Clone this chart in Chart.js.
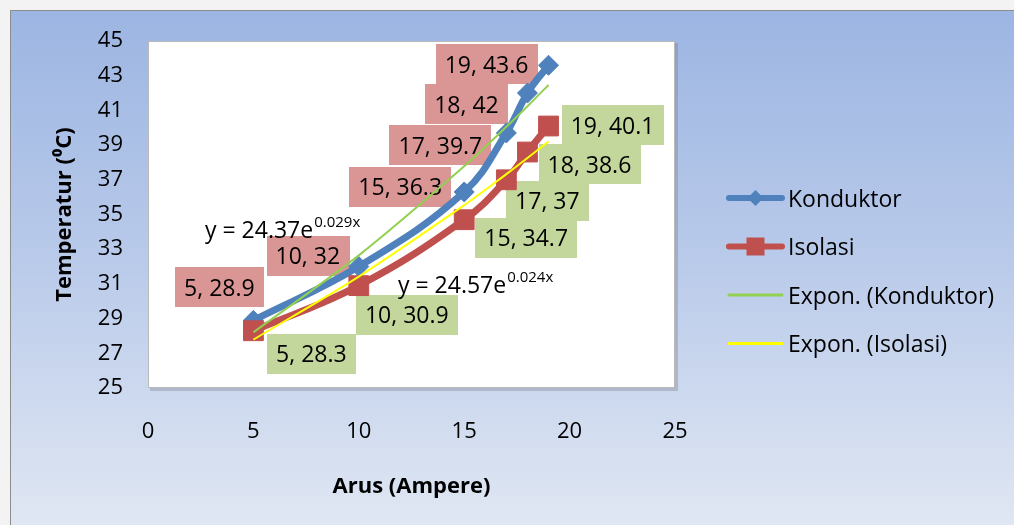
<!DOCTYPE html>
<html>
<head>
<meta charset="utf-8">
<script src="https://cdn.jsdelivr.net/npm/chart.js@4.4.1/dist/chart.umd.min.js"></script>
<style>
  html, body { margin: 0; padding: 0; background: #f3f3f3; overflow: hidden; }
  #wrap { width: 1014px; height: 525px; position: relative; }
  canvas { display: block; }
</style>
</head>
<body>
<div id="wrap"><canvas id="c" width="1014" height="525"></canvas></div>
<script>
// Measured current (A) and temperature (°C)
const arus = [5, 10, 15, 17, 18, 19];
const konduktor = [28.9, 32, 36.3, 39.7, 42, 43.6];
const isolasi = [28.3, 30.9, 34.7, 37, 38.6, 40.1];
const xTicks = [0, 5, 10, 15, 20, 25];
const yTicks = [25, 27, 29, 31, 33, 35, 37, 39, 41, 43, 45];
const seriesNames = ['Konduktor', 'Isolasi'];
const trendNames = ['Expon. (Konduktor)', 'Expon. (Isolasi)'];

const FONT = '"Open Sans", Lato, sans-serif';

// Least-squares exponential fit y = a * e^(b x) (regression on ln y)
function expFit(xs, ys) {
  const n = xs.length;
  const ly = ys.map(Math.log);
  const mx = xs.reduce((s, v) => s + v, 0) / n;
  const my = ly.reduce((s, v) => s + v, 0) / n;
  let sxy = 0, sxx = 0;
  for (let i = 0; i < n; i++) { sxy += (xs[i] - mx) * (ly[i] - my); sxx += (xs[i] - mx) ** 2; }
  const b = sxy / sxx;
  const a = Math.exp(my - b * mx);
  return { a, b };
}
const fitK = expFit(arus, konduktor);
const fitI = expFit(arus, isolasi);
const trendK = arus.map(x => fitK.a * Math.exp(fitK.b * x));
const trendI = arus.map(x => fitI.a * Math.exp(fitI.b * x));

const pts = (xs, ys) => xs.map((x, i) => ({ x, y: ys[i] }));

// Chart frame, gradient backdrop and plot-area panel
const backdrop = {
  id: 'backdrop',
  beforeDraw(chart) {
    const { ctx, chartArea: a } = chart;
    const W = chart.width, H = chart.height;
    ctx.save();
    ctx.fillStyle = '#f3f3f3';
    ctx.fillRect(0, 0, W, H);
    const g = ctx.createLinearGradient(0, 10, 0, H);
    g.addColorStop(0, '#9cb5e2');
    g.addColorStop(0.5, '#bacbea');
    g.addColorStop(1, '#e0e7f3');
    ctx.fillStyle = g;
    ctx.fillRect(10, 10, W - 10, H - 10);
    ctx.strokeStyle = '#8c8c8c';
    ctx.lineWidth = 1;
    ctx.beginPath();
    ctx.moveTo(10.5, H); ctx.lineTo(10.5, 10.5); ctx.lineTo(W, 10.5);
    ctx.stroke();
    // plot panel with soft shadow
    ctx.fillStyle = 'rgba(110,110,120,0.3)';
    ctx.fillRect(a.left + 2, a.top + 2, a.right - a.left + 1, a.bottom - a.top + 1);
    ctx.fillStyle = '#ffffff';
    ctx.fillRect(a.left, a.top, a.right - a.left, a.bottom - a.top);
    ctx.strokeStyle = '#b9b9b9';
    ctx.strokeRect(a.left + 0.5, a.top + 0.5, a.right - a.left - 1, a.bottom - a.top - 1);
    ctx.restore();
  }
};

// Point value labels and trendline equations
const valueLabels = {
  id: 'valueLabels',
  beforeDatasetsDraw(chart, args, opts) {
    const { ctx } = chart;
    const xs = chart.scales.x, ys = chart.scales.y;
    ctx.save();
    ctx.font = `23px ${FONT}`;
    ctx.textAlign = 'center';
    ctx.textBaseline = 'middle';
    opts.series.forEach(s => {
      const ds = chart.data.datasets[s.dataset];
      ds.data.forEach((p, i) => {
        const cx = xs.getPixelForValue(p.x) + s.offsets[i][0];
        const cy = ys.getPixelForValue(p.y) + s.offsets[i][1];
        const txt = `${p.x}, ${p.y}`;
        const w = ctx.measureText(txt).width + 2 * opts.padX;
        const h = opts.boxH;
        ctx.fillStyle = s.fill;
        ctx.fillRect(Math.round(cx - w / 2), Math.round(cy - h / 2), Math.round(w), h);
        ctx.fillStyle = '#000';
        ctx.fillText(txt, cx, cy + 2);
      });
    });
    // equations
    opts.equations.forEach(e => {
      ctx.textAlign = 'left';
      ctx.font = `23px ${FONT}`;
      ctx.fillStyle = '#000';
      const base = `y = ${e.fit.a.toFixed(2)}e`;
      ctx.fillText(base, e.x, e.y);
      const bw = ctx.measureText(base).width;
      ctx.font = `15px ${FONT}`;
      ctx.fillText(`${(Math.floor(e.fit.b * 1000) / 1000).toFixed(3)}x`, e.x + bw + 1, e.y - 8);
    });
    ctx.restore();
  }
};

// Legend on the right
const sideLegend = {
  id: 'sideLegend',
  afterDraw(chart, args, opts) {
    const { ctx } = chart;
    ctx.save();
    opts.items.forEach((it, k) => {
      const y = opts.y0 + k * opts.step;
      ctx.strokeStyle = it.color;
      ctx.lineWidth = it.width;
      ctx.lineCap = 'round';
      ctx.beginPath();
      ctx.moveTo(opts.x0, y); ctx.lineTo(opts.x1, y);
      ctx.stroke();
      const cx = (opts.x0 + opts.x1) / 2;
      ctx.fillStyle = it.color;
      if (it.marker === 'diamond') {
        ctx.beginPath();
        ctx.moveTo(cx - 8, y); ctx.lineTo(cx, y - 8); ctx.lineTo(cx + 8, y); ctx.lineTo(cx, y + 8);
        ctx.closePath(); ctx.fill();
      } else if (it.marker === 'square') {
        ctx.fillRect(cx - 9, y - 9, 18, 18);
      }
      ctx.fillStyle = '#000';
      ctx.font = `23px ${FONT}`;
      ctx.textAlign = 'left';
      ctx.textBaseline = 'middle';
      ctx.fillText(it.text, opts.x1 + 6, y + 2);
    });
    ctx.restore();
  }
};

const chart = new Chart(document.getElementById('c'), {
  type: 'scatter',
  data: {
    datasets: [
      {
        label: seriesNames[0], data: pts(arus, konduktor), showLine: true,
        borderColor: '#4f81bd', backgroundColor: '#4f81bd', borderWidth: 7,
        tension: 0.4, borderCapStyle: 'round', borderJoinStyle: 'round',
        pointStyle: 'rectRot', pointRadius: 10, pointBorderWidth: 1, order: 4
      },
      {
        label: seriesNames[1], data: pts(arus, isolasi), showLine: true,
        borderColor: '#c0504d', backgroundColor: '#c0504d', borderWidth: 7,
        tension: 0.4, borderCapStyle: 'round', borderJoinStyle: 'round',
        pointStyle: 'rect', pointRadius: 14, pointBorderWidth: 1, order: 3
      },
      {
        label: trendNames[0], data: pts(arus, trendK), showLine: true,
        borderColor: '#92d050', borderWidth: 2, pointRadius: 0, tension: 0.3, order: 2
      },
      {
        label: trendNames[1], data: pts(arus, trendI), showLine: true,
        borderColor: '#ffff00', borderWidth: 2, pointRadius: 0, tension: 0.3, order: 1
      }
    ]
  },
  options: {
    responsive: false,
    animation: false,
    devicePixelRatio: 1,
    layout: { padding: { top: 41, right: 339, left: 0, bottom: 0 } },
    plugins: {
      legend: { display: false },
      tooltip: { enabled: false },
      valueLabels: {
        padX: 9, boxH: 40,
        series: [
          { dataset: 0, fill: '#d99694',
            offsets: [[-34, -33], [-51, -11], [-64, -5], [-66, 12], [-61, 11], [-62, -1]] },
          { dataset: 1, fill: '#c3d69b',
            offsets: [[58, 23], [48, 29], [62, 18], [41, 21], [62, 12], [64, -1]] }
        ],
        equations: [
          { fit: fitK, x: 205, y: 231 },
          { fit: fitI, x: 398, y: 286 }
        ]
      },
      sideLegend: {
        x0: 729, x1: 782, y0: 198, step: 48.5,
        items: [
          { text: seriesNames[0], color: '#4f81bd', width: 6, marker: 'diamond' },
          { text: seriesNames[1], color: '#c0504d', width: 6, marker: 'square' },
          { text: trendNames[0], color: '#92d050', width: 3 },
          { text: trendNames[1], color: '#ffff00', width: 3 }
        ]
      }
    },
    scales: {
      x: {
        type: 'linear', min: 0, max: 25,
        afterBuildTicks: s => { s.ticks = xTicks.map(v => ({ value: v })); },
        afterFit: s => { s.height = 137; },
        grid: { display: false, drawTicks: false },
        border: { display: false },
        ticks: { font: { family: FONT, size: 22 }, color: '#000', padding: 31 },
        title: { display: true, text: 'Arus (Ampere)', color: '#000',
                 font: { family: FONT, size: 22, weight: 'bold' }, padding: { bottom: 25, top: 0 } }
      },
      y: {
        type: 'linear', min: 25, max: 45,
        afterBuildTicks: s => { s.ticks = yTicks.map(v => ({ value: v })); },
        afterFit: s => { s.width = 148; },
        grid: { display: false, drawTicks: false },
        border: { display: false },
        ticks: { font: { family: FONT, size: 22 }, color: '#000', padding: 25 },
        title: { display: true, text: 'Temperatur (⁰C)', color: '#000',
                 font: { family: FONT, size: 22, weight: 'bold' }, padding: { top: 52, bottom: 0 } }
      }
    }
  },
  plugins: [backdrop, valueLabels, sideLegend]
});
</script>
</body>
</html>
